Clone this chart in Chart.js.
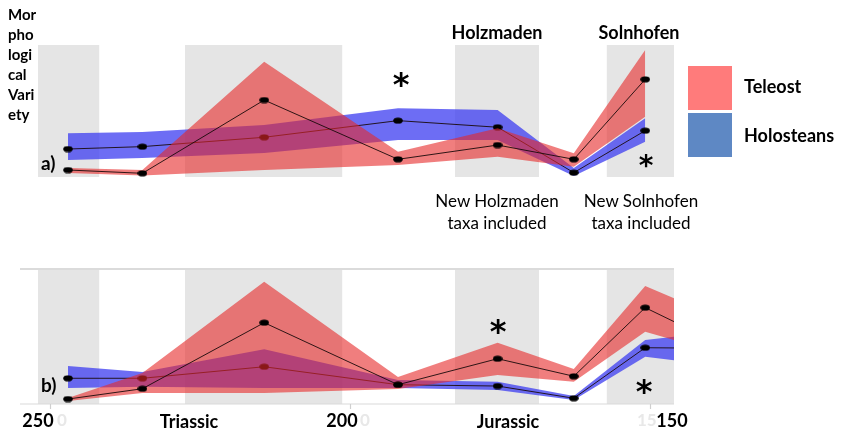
<!DOCTYPE html>
<html>
<head>
<meta charset="utf-8">
<script src="https://cdn.jsdelivr.net/npm/chart.js@4.4.1/dist/chart.umd.min.js"></script>
<style>
  html, body { margin: 0; padding: 0; background: #fff; }
  #wrap { position: relative; width: 851px; height: 432px; overflow: hidden; background: #fff; font-family: Lato, "Open Sans", sans-serif; color: #000; }
  canvas { position: absolute; left: 0; }
  .t { position: absolute; white-space: nowrap; line-height: 1; }
  .b { font-weight: 700; }
  .c { text-align: center; }
  .ast { font-family: "DejaVu Sans", sans-serif; font-weight: 700; }
</style>
</head>
<body>
<div id="wrap">
  <canvas id="top" width="851" height="250" style="top:0"></canvas>
  <canvas id="bot" width="851" height="172" style="top:260px"></canvas>

  <div class="t b" style="left:8px;top:4px;font-size:15px;line-height:20px;">Mor<br>pho<br>logi<br>cal<br>Vari<br>ety</div>
  <div class="t b" style="left:41px;top:153px;font-size:19px;">a)</div>
  <div class="t b" style="left:41px;top:375px;font-size:19px;">b)</div>

  <div class="t b c" style="left:437px;width:120px;top:23px;font-size:18px;">Holzmaden</div>
  <div class="t b c" style="left:579px;width:120px;top:23px;font-size:18px;">Solnhofen</div>

  <div class="t c" style="left:422px;width:150px;top:190px;font-size:17px;line-height:22px;">New Holzmaden<br>taxa included</div>
  <div class="t c" style="left:566px;width:150px;top:190px;font-size:17px;line-height:22px;">New Solnhofen<br>taxa included</div>

  <div style="position:absolute;left:688px;top:66px;width:44px;height:44px;background:#ff7b7b;"></div>
  <div style="position:absolute;left:688px;top:113px;width:44px;height:44px;background:#5e88c4;"></div>
  <div class="t b" style="left:744px;top:77px;font-size:18px;">Teleost</div>
  <div class="t b" style="left:744px;top:126px;font-size:18px;">Holosteans</div>

  <div class="t ast c" style="left:371px;width:60px;top:68px;font-size:32px;">*</div>
  <div class="t ast c" style="left:616px;width:60px;top:152px;font-size:28px;">*</div>
  <div class="t ast c" style="left:468px;width:60px;top:315px;font-size:32px;">*</div>
  <div class="t ast c" style="left:614px;width:60px;top:375px;font-size:32px;">*</div>

  <div class="t b c" style="left:8px;width:60px;top:411px;font-size:18px;">250</div>
  <div class="t b" style="left:57px;top:411px;font-size:17px;color:#e8e8e8;">0</div>
  <div class="t b c" style="left:129px;width:120px;top:412px;font-size:18px;">Triassic</div>
  <div class="t b c" style="left:312px;width:60px;top:411px;font-size:18px;">200</div>
  <div class="t b" style="left:360px;top:411px;font-size:17px;color:#e8e8e8;">0</div>
  <div class="t b c" style="left:448px;width:120px;top:412px;font-size:18px;">Jurassic</div>
  <div class="t b" style="left:637px;top:411px;font-size:17px;color:#e8e8e8;">15</div>
  <div class="t b c" style="left:642px;width:60px;top:411px;font-size:18px;">150</div>
</div>
<script>
// ---- data (time in Ma, morphological variety in arbitrary units 0-10) ----
const times = [247, 234.6, 214.3, 192, 175.4, 162.7, 150.8];
const timesB = [247, 234.6, 214.3, 192, 175.4, 162.7, 150.8, 145];

// panel a)
const teleA      = [0.53, 0.28, 5.83, 1.34, 2.42, 1.34, 7.40];
const teleA_up   = [0.68, 0.53, 8.73, 1.92, 3.69, 1.80, 9.62];
const teleA_lo   = [0.30, 0.11, 0.53, 0.91, 1.54, 0.78, 4.57];
const holoA      = [2.12, 2.30, 3.01, 4.27, 3.77, 0.33, 3.51];
const holoA_up   = [3.31, 3.41, 3.94, 5.20, 5.08, 0.68, 4.45];
const holoA_lo   = [1.29, 1.44, 1.82, 2.80, 2.80, 0.08, 2.67];

// panel b)
const teleB      = [0.37, 1.14, 6.07, 1.44, 3.38, 2.07, 7.19, 5.93];
const teleB_up   = [0.45, 2.31, 9.13, 2.01, 4.57, 2.61, 8.81, 7.70];
const teleB_lo   = [0.22, 0.82, 0.82, 1.12, 2.16, 1.66, 5.40, 4.65];
const holoB      = [1.92, 1.92, 2.78, 1.44, 1.34, 0.43, 4.20, 4.18];
const holoB_up   = [2.84, 2.39, 4.08, 1.79, 1.66, 0.60, 4.78, 5.07];
const holoB_lo   = [1.19, 1.29, 1.19, 1.19, 1.04, 0.30, 3.53, 3.21];

// shaded stratigraphic intervals [older, younger] in Ma
const bandStart = [252, 227.5, 182.5, 157.2];
const bandEnd   = [241.8, 201.3, 168.5, 146];

// axis ticks
const tickValues = [250, 200, 150];

// ---- rendering ----
const dot = document.createElement('canvas');
dot.width = 10; dot.height = 7;
(function(){ const c = dot.getContext('2d'); c.fillStyle = '#000'; c.beginPath(); c.ellipse(5, 3.5, 4.8, 3.1, 0, 0, Math.PI*2); c.fill(); })();

const RED = 'rgba(230,40,40,0.6)';
const BLUE = 'rgba(60,60,240,0.75)';
const LINE = 'rgba(25,10,10,0.9)';

function pts(xs, ys) { return ys.map((y, i) => ({x: xs[i], y})); }

const bandsPlugin = {
  id: 'bands',
  beforeDatasetsDraw(chart) {
    const {ctx, chartArea: a, scales: {x}} = chart;
    ctx.save();
    ctx.beginPath(); ctx.rect(a.left, a.top, a.right - a.left, a.bottom - a.top); ctx.clip();
    ctx.fillStyle = '#e5e5e5';
    bandStart.forEach((s, i) => {
      const x1 = x.getPixelForValue(s), x2 = x.getPixelForValue(bandEnd[i]);
      ctx.fillRect(Math.min(x1, x2), a.top, Math.abs(x2 - x1), a.bottom - a.top);
    });
    ctx.restore();
  }
};

const axisPlugin = {
  id: 'axisLines',
  afterDraw(chart) {
    const {ctx, chartArea: a, scales: {x}} = chart;
    ctx.save();
    ctx.strokeStyle = '#cfcfcf'; ctx.lineWidth = 1.5;
    ctx.beginPath(); ctx.moveTo(a.left, a.top - 1); ctx.lineTo(a.right, a.top - 1); ctx.stroke();
    ctx.strokeStyle = '#dadada'; ctx.lineWidth = 1.2;
    ctx.beginPath(); ctx.moveTo(a.left, a.bottom); ctx.lineTo(a.right, a.bottom); ctx.stroke();
    ctx.strokeStyle = '#cfcfcf';
    tickValues.forEach(v => {
      const px = Math.round(x.getPixelForValue(v)) + 0.5;
      ctx.beginPath(); ctx.moveTo(px, a.bottom); ctx.lineTo(px, a.bottom + 5); ctx.stroke();
    });
    ctx.restore();
  }
};

function build(id, xs, tele, teleUp, teleLo, holo, holoUp, holoLo, padding, extraPlugins) {
  return new Chart(document.getElementById(id), {
    type: 'line',
    data: {
      datasets: [
        { data: pts(xs, tele), borderColor: LINE, borderWidth: 1, pointStyle: dot, pointRadius: 4, pointBackgroundColor: '#000', fill: false, order: 0 },
        { data: pts(xs, teleUp), borderWidth: 0, borderColor: 'transparent', pointRadius: 0, backgroundColor: RED, fill: 2, order: 1 },
        { data: pts(xs, teleLo), borderWidth: 0, borderColor: 'transparent', pointRadius: 0, fill: false, order: 1 },
        { data: pts(xs, holo), borderColor: LINE, borderWidth: 1, pointStyle: dot, pointRadius: 4, pointBackgroundColor: '#000', fill: false, order: 2 },
        { data: pts(xs, holoUp), borderWidth: 0, borderColor: 'transparent', pointRadius: 0, backgroundColor: BLUE, fill: 5, order: 3 },
        { data: pts(xs, holoLo), borderWidth: 0, borderColor: 'transparent', pointRadius: 0, fill: false, order: 3 }
      ]
    },
    options: {
      responsive: false,
      animation: false,
      events: [],
      layout: { padding },
      elements: { line: { tension: 0 } },
      scales: {
        x: { type: 'linear', min: 146, max: 255, reverse: true, display: false },
        y: { type: 'linear', min: 0, max: 10, display: false }
      },
      plugins: { legend: { display: false }, tooltip: { enabled: false } }
    },
    plugins: [bandsPlugin].concat(extraPlugins)
  });
}

build('top', times, teleA, teleA_up, teleA_lo, holoA, holoA_up, holoA_lo,
      { left: 20, right: 177, top: 45, bottom: 73 }, []);
build('bot', timesB, teleB, teleB_up, teleB_lo, holoB, holoB_up, holoB_lo,
      { left: 20, right: 177, top: 10, bottom: 28 }, [axisPlugin]);
</script>
</body>
</html>
